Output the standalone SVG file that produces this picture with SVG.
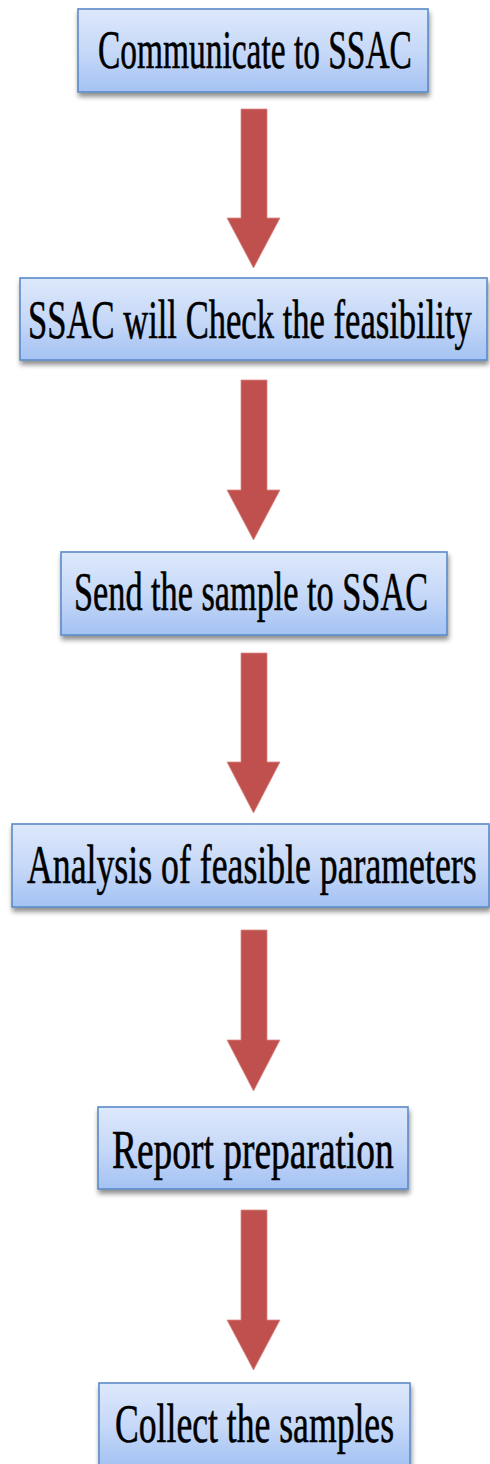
<svg xmlns="http://www.w3.org/2000/svg" width="490" height="1464" viewBox="0 0 490 1464">
<defs>
<linearGradient id="fill" x1="0" y1="0" x2="0" y2="1">
<stop offset="0" stop-color="#dde8fb"/>
<stop offset="0.5" stop-color="#c7d9f8"/>
<stop offset="1" stop-color="#a4c2f3"/>
</linearGradient>
<filter id="shadow" x="-10%" y="-20%" width="120%" height="150%">
<feGaussianBlur in="SourceAlpha" stdDeviation="2.5"/>
<feOffset dx="1" dy="4" result="b"/>
<feComponentTransfer><feFuncA type="linear" slope="0.45"/></feComponentTransfer>
<feMerge><feMergeNode/><feMergeNode in="SourceGraphic"/></feMerge>
</filter>
</defs>
<style>
.box{fill:url(#fill);stroke:#5b8bc9;stroke-width:1.6;filter:url(#shadow)}
.lbl{font-family:"Liberation Serif","DejaVu Serif",serif;font-size:55px;fill:#000;stroke:#000;stroke-width:0.6}
.arr{fill:#c0504d;stroke:#d98a88;stroke-width:0.8}
</style>
<g id="connectors">
<path class="arr" d="M241,109 H267 V218 H280 L253.5,268 L227,218 H241 Z"/>
<path class="arr" d="M241,380 H267 V490 H280 L253.5,540 L227,490 H241 Z"/>
<path class="arr" d="M241,653 H267 V762 H280 L253.5,813 L227,762 H241 Z"/>
<path class="arr" d="M241,930 H267 V1040 H280 L253.5,1091 L227,1040 H241 Z"/>
<path class="arr" d="M241,1210 H267 V1320 H280 L253.5,1370 L227,1320 H241 Z"/>
</g>
<g id="n1">
<rect class="box" x="78" y="9" width="350" height="83"/>
<text class="lbl" transform="matrix(0.608 0 0 1 98 68)">Communicate to SSAC</text>
</g>
<g id="n2">
<rect class="box" x="20" y="278" width="467" height="82"/>
<text class="lbl" transform="matrix(0.629 0 0 1 28 338)">SSAC will Check the feasibility</text>
</g>
<g id="n3">
<rect class="box" x="61" y="552" width="386" height="83"/>
<text class="lbl" transform="matrix(0.623 0 0 1 74 610)">Send the sample to SSAC</text>
</g>
<g id="n4">
<rect class="box" x="12" y="824" width="477" height="83"/>
<text class="lbl" transform="matrix(0.650 0 0 1 27 883)">Analysis of feasible parameters</text>
</g>
<g id="n5">
<rect class="box" x="98" y="1107" width="310" height="82"/>
<text class="lbl" transform="matrix(0.681 0 0 1 112 1168)">Report preparation</text>
</g>
<g id="n6">
<rect class="box" x="99" y="1383" width="311" height="83"/>
<text class="lbl" transform="matrix(0.648 0 0 1 115 1442)">Collect the samples</text>
</g>
</svg>
